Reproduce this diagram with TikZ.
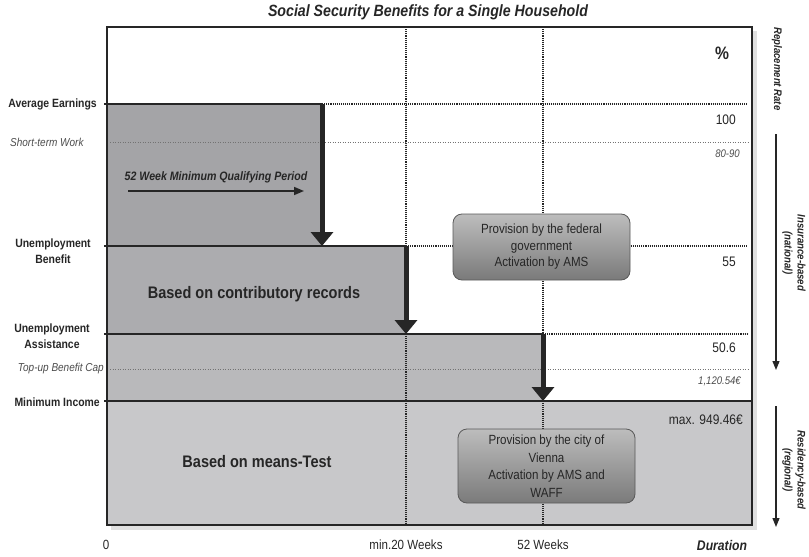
\documentclass[tikz,border=0pt]{standalone}
\usepackage{fontspec}
\setmainfont{Liberation Sans}[FakeStretch=0.87]
\usetikzlibrary{positioning}
\usetikzlibrary{arrows.meta}

\definecolor{tierA}{HTML}{A4A4A7}
\definecolor{tierB}{HTML}{ACACAF}
\definecolor{tierC}{HTML}{B9B9BB}
\definecolor{tierD}{HTML}{C8C8CA}
\definecolor{ink}{HTML}{262626}

\begin{document}
\begin{tikzpicture}[x=1pt,y=-1pt,
  tierlabel/.style={font=\bfseries\fontsize{12}{15.5}\selectfont, text=ink, align=center, inner sep=0pt},
  sublabel/.style={font=\itshape\fontsize{11.5}{13}\selectfont, text=black!70, inner sep=0pt},
  rate/.style={font=\fontsize{13.8}{15}\selectfont, text=ink, anchor=east, inner sep=0pt},
  smallrate/.style={font=\itshape\fontsize{11}{12}\selectfont, text=black!70, anchor=east, inner sep=0pt},
  durlabel/.style={font=\fontsize{13.3}{15}\selectfont, text=ink, inner sep=0pt},
  basis/.style={font=\bfseries\fontsize{16.7}{18}\selectfont, text=ink, inner sep=0pt},
  sidelabel/.style={font=\bfseries\itshape\fontsize{11}{13}\selectfont, text=ink, rotate=-90, align=center, inner sep=0pt},
  provider/.style={draw=black!65, line width=0.8pt, rounded corners=9pt, top color=black!26, bottom color=black!52, align=center, text=ink, font=\fontsize{13.3}{16.5}\selectfont, minimum width=177pt, inner sep=0pt},
  tieredge/.style={ink, line width=1.2pt},
  levelline/.style={densely dotted, line width=1.1pt, ink},
  guide/.style={dotted, line width=0.5pt, black!55},
  drop/.style={line width=5pt, ink, -{Triangle[width=22pt,length=14pt]}},
  scalearrow/.style={line width=1.2pt, ink, -{Triangle[width=7pt,length=9pt]}}]
\useasboundingbox (0,0) rectangle (809,557);

\fill[black!12] (111,31) rectangle (757,530);
\fill[white] (107,27) rectangle (752,525);
\fill[tierD] (107,401) rectangle (752,525);
\fill[tierC] (107,334) rectangle (543,401);
\fill[tierB] (107,246) rectangle (406,334);
\fill[tierA] (107,104) rectangle (322,246);

\coordinate (earnStep) at (322,104);
\coordinate (benefitStep) at (322,246);
\coordinate (benefitEnd) at (406,246);
\coordinate (assistStep) at (406,334);
\coordinate (assistEnd) at (543,334);
\coordinate (minStep) at (543,401);
\coordinate (frameTL) at (107,27);
\coordinate (frameBR) at (752,525);
\coordinate (qpStart) at (128,191);
\coordinate (qpEnd) at (304,191);
\coordinate (insTop) at (776,134);
\coordinate (insBot) at (776,370);
\coordinate (resTop) at (776,406);
\coordinate (resBot) at (776,527);

\draw[guide] (110,142) -- (748,142);
\draw[guide] (110,369) -- (748,369);
\draw[levelline] (earnStep) -- (748,104);
\draw[levelline] (benefitEnd) -- (748,246);
\draw[levelline] (assistEnd) -- (748,334);
\draw[levelline] (406,27) -- (406,525);
\draw[levelline] (543,27) -- (543,525);

\draw[tieredge] (104,104) -- (earnStep);
\draw[tieredge] (104,246) -- (benefitEnd);
\draw[tieredge] (104,334) -- (assistEnd);
\draw[ink, line width=2.2pt] (104,401) -- (752,401);

\draw[drop] (earnStep) -- (benefitStep);
\draw[drop] (benefitEnd) -- (assistStep);
\draw[drop] (assistEnd) -- (minStep);
\draw[ink, line width=1.6pt] (frameTL) rectangle (frameBR);

\node[provider, minimum height=66pt] (federal) at (541.5,247) {Provision by the federal\\government\\Activation by AMS};
\node[provider, minimum height=74pt, font=\fontsize{13.3}{17.5}\selectfont] (vienna) at (546.5,466) {Provision by the city of\\Vienna\\Activation by AMS and\\WAFF};

\node[font=\bfseries\itshape\fontsize{16.3}{18}\selectfont, text=ink, inner sep=0pt] (title) at (428,12) {Social Security Benefits for a Single Household};

\node[tierlabel, anchor=east] (earnings) at (97,104) {Average Earnings};
\node[sublabel, anchor=west] (shortwork) at (10,142) {Short-term Work};
\node[tierlabel] (benefit) at (53,251) {Unemployment\\Benefit};
\node[tierlabel] (assistance) at (52,336) {Unemployment\\Assistance};
\node[sublabel, anchor=east] (topup) at (104,369) {Top-up Benefit Cap};
\node[tierlabel, anchor=east] (minincome) at (100,402) {Minimum Income};

\node[font=\bfseries\itshape\fontsize{12.2}{14}\selectfont, text=ink, inner sep=0pt] (qualify) at (216,177) {52 Week Minimum Qualifying Period};
\draw[ink, line width=1.5pt, -{Triangle[width=8pt,length=10pt]}] (qpStart) -- (qpEnd);

\node[basis] (contrib) at (254,294) {Based on contributory records};
\node[basis] (means) at (257,462) {Based on means-Test};

\node[font=\bfseries\fontsize{18}{20}\selectfont, text=ink, inner sep=0pt] (percent) at (722,53) {\%};
\node[rate] (r100) at (736,120) {100};
\node[smallrate] (r8090) at (740,154) {80-90};
\node[rate] (r55) at (736,262) {55};
\node[rate] (r506) at (736,348) {50.6};
\node[smallrate] (rcap) at (741,381) {1,120.54€};
\node[rate] (rmax) at (743,420) {max. 949.46€};

\node[durlabel] (zero) at (106,545) {0};
\node[durlabel] (w20) at (406,545) {min.20 Weeks};
\node[durlabel] (w52) at (543,545) {52 Weeks};
\node[durlabel, font=\bfseries\itshape\fontsize{14}{16}\selectfont] (duration) at (722,545) {Duration};

\node[sidelabel] (replacement) at (777,69) {Replacement Rate};
\draw[scalearrow] (insTop) -- (insBot);
\node[sidelabel] (insurance) at (794,253) {Insurance-based\\(national)};
\draw[scalearrow] (resTop) -- (resBot);
\node[sidelabel] (residency) at (794,470) {Residency-based\\(regional)};
\end{tikzpicture}
\end{document}
